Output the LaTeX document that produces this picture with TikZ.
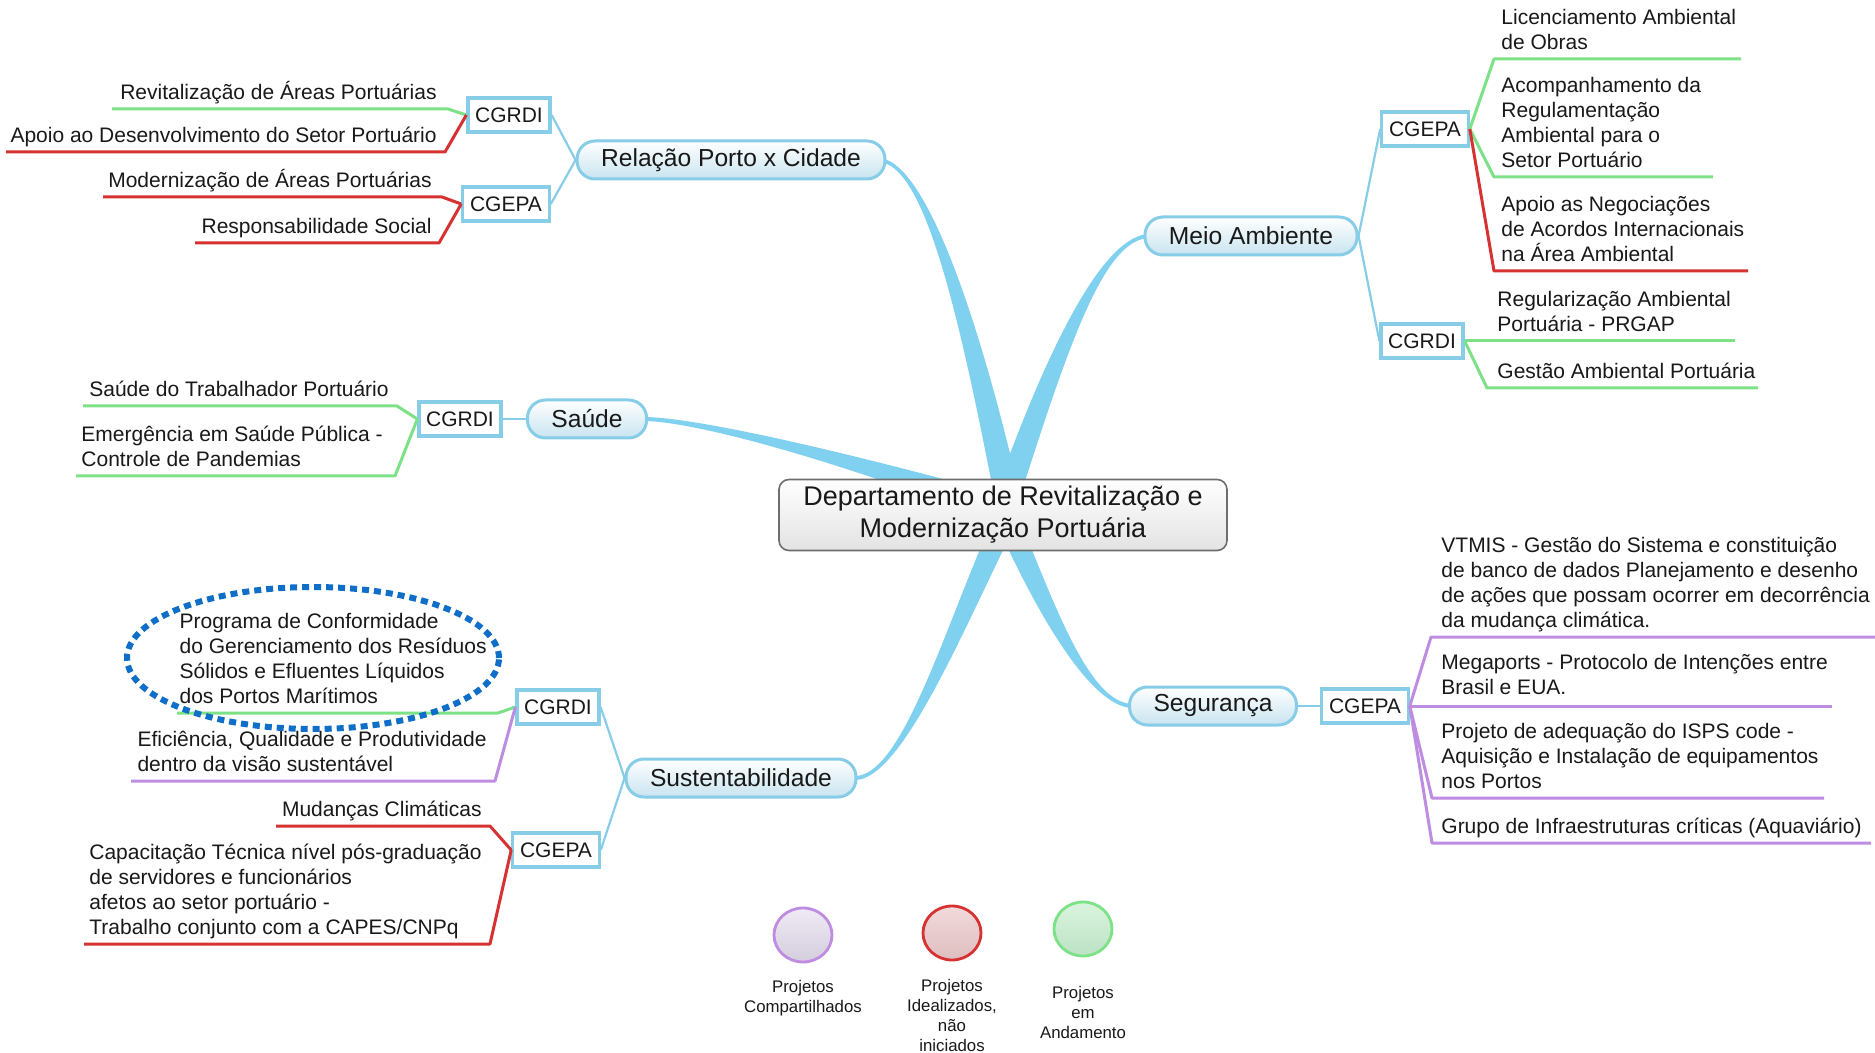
\documentclass[tikz,border=0pt]{standalone}
\usepackage{fontspec}
\setmainfont{Liberation Sans}
\usetikzlibrary{shapes.geometric}
\definecolor{tblue}{RGB}{135,205,232}
\definecolor{bblue}{RGB}{128,208,240}
\definecolor{tfill}{RGB}{200,228,240}
\definecolor{lgreen}{RGB}{125,225,135}
\definecolor{lred}{RGB}{215,50,50}
\definecolor{lpurple}{RGB}{190,140,225}
\definecolor{txt}{RGB}{25,25,25}
\definecolor{cgray}{RGB}{110,110,110}
\definecolor{ellblue}{RGB}{15,110,200}
\tikzset{
  topic/.style={draw=tblue, line width=1.5pt, rounded corners=9pt, top color=white, bottom color=tfill, minimum height=19pt, inner xsep=12pt, inner ysep=0pt, font=\fontsize{12.3}{14}\selectfont, text=txt},
  subbox/.style={draw=tblue, line width=1.6pt, fill=white, minimum height=17pt, inner xsep=3.6pt, inner ysep=0pt, font=\fontsize{10.5}{12}\selectfont, text=txt},
  leaf/.style={align=left, inner sep=0pt, font=\fontsize{10.5}{12.4}\selectfont, text=txt, execute at end node=\strut},
  leafL/.style={leaf, anchor=south east},
  leafR/.style={leaf, anchor=south west},
  gl/.style={draw=lgreen, line width=1.5pt, line join=round},
  rl/.style={draw=lred, line width=1.5pt, line join=round},
  pl/.style={draw=lpurple, line width=1.5pt, line join=round},
  subline/.style={draw=tblue, line width=1.1pt},
  branch/.style={fill=bblue},
  legball/.style={ellipse, line width=1.4pt, minimum width=29pt, minimum height=27pt, inner sep=0pt},
  legtext/.style={align=center, inner sep=0pt, font=\fontsize{8.4}{10}\selectfont, text=txt}
}
\begin{document}
\begin{tikzpicture}[x=0.5pt,y=-0.5pt]
\useasboundingbox (0,0) rectangle (1875,1053);
\fill[white] (0,0) rectangle (1875,1053);

% main tapered branches
% Relacao Porto x Cidade
\fill[branch] (878,158) .. controls (925,158) and (980,320) .. (1021,500) -- (995,500) .. controls (960,320) and (925,162) .. (878,162) -- cycle;
% Meio Ambiente
\fill[branch] (1150,234) .. controls (1105,234) and (1050,340) .. (993,500) -- (1019,500) .. controls (1070,340) and (1105,238) .. (1150,238) -- cycle;
% Saude
\fill[branch] (645,417) .. controls (700,418) and (850,453) .. (1006,496) -- (1000,524) .. controls (850,465) and (700,422) .. (645,421) -- cycle;
% Sustentabilidade
\fill[branch] (855,780) .. controls (900,780) and (959,640) .. (1008,540) -- (984,540) .. controls (941,640) and (900,776) .. (855,776) -- cycle;
% Seguranca
\fill[branch] (1133,708) .. controls (1095,708) and (1046,630) .. (1004,540) -- (1028,540) .. controls (1064,630) and (1095,704) .. (1133,704) -- cycle;

% central node
\node[draw=cgray, line width=0.8pt, rounded corners=5pt, top color=white, bottom color=gray!22, minimum width=224pt, minimum height=35.5pt, align=center, inner sep=0pt, font=\fontsize{13.5}{16}\selectfont, text=txt] (dept) at (1003,515) {Departamento de Revitalização e\\Modernização Portuária};

% topics
\node[topic] (rel) at (731,160) {Relação Porto x Cidade};
\node[topic] (sau) at (587,419) {Saúde};
\node[topic] (mei) at (1251,236) {Meio Ambiente};
\node[topic] (seg) at (1213,706) {Segurança};
\node[topic] (sus) at (741,778) {Sustentabilidade};

% sub boxes
\node[subbox] (rc1) at (509,115) {CGRDI};
\node[subbox] (rc2) at (506,204) {CGEPA};
\node[subbox] (sc) at (460,419) {CGRDI};
\node[subbox] (mc1) at (1425,129) {CGEPA};
\node[subbox] (mc2) at (1422,341) {CGRDI};
\node[subbox] (gc) at (1365,706) {CGEPA};
\node[subbox] (uc1) at (558,707) {CGRDI};
\node[subbox] (uc2) at (556,850) {CGEPA};

\draw[subline] (rel.west) -- (rc1.east);
\draw[subline] (rel.west) -- (rc2.east);
\draw[subline] (sau.west) -- (sc.east);
\draw[subline] (mei.east) -- (mc1.west);
\draw[subline] (mei.east) -- (mc2.west);
\draw[subline] (seg.east) -- (gc.west);
\draw[subline] (sus.west) -- (uc1.east);
\draw[subline] (sus.west) -- (uc2.east);

% left leaves
\node[leafL] (r1) at (437,107) {Revitalização de Áreas Portuárias};
\node[leafL] (r2) at (437,150) {Apoio ao Desenvolvimento do Setor Portuário};
\node[leafL] (r3) at (432,195) {Modernização de Áreas Portuárias};
\node[leafL] (r4) at (432,241) {Responsabilidade Social};
\node[leafL] (s1) at (389,404) {Saúde do Trabalhador Portuário};
\node[leafL] (s2) at (383,474) {Emergência em Saúde Pública -\\Controle de Pandemias};
\node[leafL] (u1) at (487,711) {Programa de Conformidade\\do Gerenciamento dos Resíduos\\Sólidos e Efluentes Líquidos\\dos Portos Marítimos};
\node[leafL] (u2) at (487,779) {Eficiência, Qualidade e Produtividade\\dentro da visão sustentável};
\node[leafL] (u3) at (482,824) {Mudanças Climáticas};
\node[leafL] (u4) at (482,942) {Capacitação Técnica nível pós-graduação\\de servidores e funcionários\\afetos ao setor portuário -\\Trabalho conjunto com a CAPES/CNPq};

\coordinate (r1a) at (112,109); \coordinate (r1b) at (448,109);
\coordinate (r2a) at (6,152);   \coordinate (r2b) at (445,152);
\coordinate (r3a) at (103,197); \coordinate (r3b) at (442,197);
\coordinate (r4a) at (195,243); \coordinate (r4b) at (439,243);
\coordinate (s1a) at (83,406);  \coordinate (s1b) at (397,406);
\coordinate (s2a) at (76,476);  \coordinate (s2b) at (395,476);
\coordinate (u1a) at (177,713); \coordinate (u1b) at (498,713);
\coordinate (u2a) at (131,781); \coordinate (u2b) at (495,781);
\coordinate (u3a) at (276,826); \coordinate (u3b) at (490,826);
\coordinate (u4a) at (84,944);  \coordinate (u4b) at (490,944);

\draw[gl] (r1a) -- (r1b) -- (rc1.west);
\draw[rl] (r2a) -- (r2b) -- (rc1.west);
\draw[rl] (r3a) -- (r3b) -- (rc2.west);
\draw[rl] (r4a) -- (r4b) -- (rc2.west);
\draw[gl] (s1a) -- (s1b) -- (sc.west);
\draw[gl] (s2a) -- (s2b) -- (sc.west);
\draw[gl] (u1a) -- (u1b) -- (uc1.west);
\draw[pl] (u2a) -- (u2b) -- (uc1.west);
\draw[rl] (u3a) -- (u3b) -- (uc2.west);
\draw[rl] (u4a) -- (u4b) -- (uc2.west);

% right leaves
\node[leafR] (m1) at (1501,57) {Licenciamento Ambiental\\de Obras};
\node[leafR] (m2) at (1501,175) {Acompanhamento da\\Regulamentação\\Ambiental para o\\Setor Portuário};
\node[leafR] (m3) at (1501,269) {Apoio as Negociações\\de Acordos Internacionais\\na Área Ambiental};
\node[leafR] (m4) at (1497,339) {Regularização Ambiental\\Portuária - PRGAP};
\node[leafR] (m5) at (1497,386) {Gestão Ambiental Portuária};
\node[leafR] (g1) at (1441,635) {VTMIS - Gestão do Sistema e constituição\\de banco de dados Planejamento e desenho\\de ações que possam ocorrer em decorrência\\da mudança climática.};
\node[leafR] (g2) at (1441,702) {Megaports - Protocolo de Intenções entre\\Brasil e EUA.};
\node[leafR] (g3) at (1441,796) {Projeto de adequação do ISPS code -\\Aquisição e Instalação de equipamentos\\nos Portos};
\node[leafR] (g4) at (1441,841) {Grupo de Infraestruturas críticas (Aquaviário)};

\coordinate (m1a) at (1494,59);  \coordinate (m1b) at (1741,59);
\coordinate (m2a) at (1494,177); \coordinate (m2b) at (1713,177);
\coordinate (m3a) at (1494,271); \coordinate (m3b) at (1748,271);
\coordinate (m4b) at (1735,341);
\coordinate (m5a) at (1487,388); \coordinate (m5b) at (1758,388);
\coordinate (g1a) at (1431,637); \coordinate (g1b) at (1875,637);
\coordinate (g2b) at (1832,706);
\coordinate (g3a) at (1432,798); \coordinate (g3b) at (1824,798);
\coordinate (g4a) at (1432,843); \coordinate (g4b) at (1871,843);

\draw[gl] (mc1.east) -- (m1a) -- (m1b);
\draw[gl] (mc1.east) -- (m2a) -- (m2b);
\draw[rl] (mc1.east) -- (m3a) -- (m3b);
\draw[gl] (mc2.east) -- (m4b);
\draw[gl] (mc2.east) -- (m5a) -- (m5b);
\draw[pl] (gc.east) -- (g1a) -- (g1b);
\draw[pl] (gc.east) -- (g2b);
\draw[pl] (gc.east) -- (g3a) -- (g3b);
\draw[pl] (gc.east) -- (g4a) -- (g4b);

% dotted highlight ellipse
\draw[ellblue, line width=3pt, dash pattern=on 3.5pt off 2.5pt] (313,658) ellipse [x radius=93pt, y radius=35.5pt];

% legend
\node[legball, draw=lpurple, top color={rgb,255:red,240;green,234;blue,246}, bottom color={rgb,255:red,212;green,205;blue,220}] (lp) at (803,935) {};
\node[legball, draw=lred, top color={rgb,255:red,242;green,218;blue,218}, bottom color={rgb,255:red,222;green,190;blue,192}] (lr) at (952,933) {};
\node[legball, draw=lgreen, top color={rgb,255:red,218;green,244;blue,222}, bottom color={rgb,255:red,188;green,226;blue,196}] (lg) at (1083,929) {};
\node[legtext] (lpt) at (803,998) {Projetos\\Compartilhados};
\node[legtext] (lrt) at (952,1015) {Projetos\\Idealizados,\\não\\iniciados};
\node[legtext] (lgt) at (1083,1012) {Projetos\\em\\Andamento};
\end{tikzpicture}
\end{document}
